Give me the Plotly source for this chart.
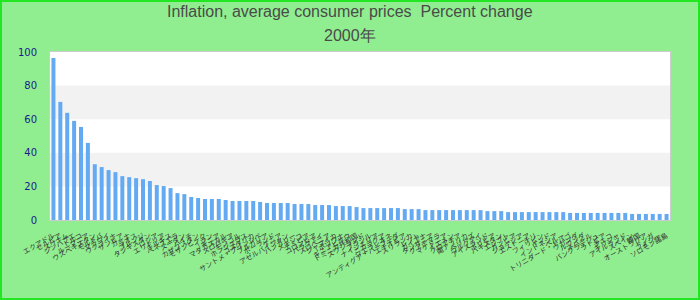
import plotly.graph_objects as go

title_line1 = "Inflation, average consumer prices  Percent change"
title_line2 = "2000年"

countries = [
    "エクアドル", "セルビア", "スリナム", "ジンバブエ", "トルコ", "ルーマニア", "ウズベキスタン", "モルドバ", "マラウイ", "ウクライナ",
    "ザンビア", "ガーナ", "ラオス", "ブルンジ", "タジキスタン", "ロシア", "エリトリア", "キルギス", "ベネズエラ", "スーダン",
    "ハイチ", "カザフスタン", "モザンビーク", "イラン", "ギニア", "マダガスカル", "スロバキア", "モンゴル", "ホンジュラス", "コスタリカ",
    "サントメ・プリンシペ", "ブルガリア", "ポーランド", "ケニア", "アゼルバイジャン", "ハンガリー", "メキシコ", "ナミビア", "コロンビア", "パラグアイ",
    "スロベニア", "ジャマイカ", "ボツワナ", "ギニアビサウ", "ドミニカ共和国", "スワジランド", "ブラジル", "ナイジェリア", "ニカラグア", "シエラレオネ",
    "アンティグア・バーブーダ", "エチオピア", "スリランカ", "レソト", "ガイアナ", "タンザニア", "グアテマラ", "マケドニア", "イエメン", "クロアチア",
    "南アフリカ", "ベリーズ", "ウルグアイ", "アイスランド", "ボリビア", "パキスタン", "エジプト", "ガンビア", "ジョージア", "エストニア",
    "チリ", "フィリピン", "インド", "インドネシア", "ペルー", "トリニダード・トバゴ", "ウガンダ", "ルワンダ", "ネパール", "バングラデシュ",
    "ラトビア", "チェコ", "ギリシャ", "アイルランド", "スペイン", "韓国", "オーストラリア", "トンガ", "フィジー", "ソロモン諸島",
]

inflation = [
    96.4, 70.3, 63.8, 59.0, 55.4, 45.9, 33.2, 31.5, 29.7, 28.5,
    26.1, 25.5, 24.9, 24.3, 23.2, 20.8, 20.2, 19.0, 16.0, 15.4,
    13.7, 13.1, 12.5, 12.5, 12.5, 11.9, 11.3, 11.3, 11.3, 11.3,
    10.7, 10.1, 10.1, 10.1, 10.1, 9.5, 9.5, 9.5, 8.9, 8.9,
    8.9, 8.3, 8.3, 8.3, 7.7, 7.1, 7.1, 7.1, 7.1, 7.1,
    7.1, 6.5, 6.5, 6.5, 5.9, 5.9, 5.9, 5.9, 5.9, 5.9,
    5.9, 5.9, 5.9, 5.3, 5.3, 5.3, 4.7, 4.7, 4.7, 4.7,
    4.7, 4.7, 4.7, 4.7, 4.7, 4.2, 4.2, 4.2, 4.2, 4.2,
    4.2, 4.2, 4.2, 4.2, 3.6, 3.6, 3.6, 3.6, 3.6, 3.6,
]

y_ticks = [0, 20, 40, 60, 80, 100]
bands = [(20, 40), (60, 80)]

W, H = 700, 300
ML, MR, MT, MB = 50, 30, 52, 80
PW, PH = W - ML - MR, H - MT - MB

fig = go.Figure()
fig.add_trace(go.Bar(
    x=countries, y=inflation,
    marker=dict(color="#64aaf2", line=dict(width=0)),
    hoverinfo="x+y",
))

shapes = []
for lo, hi in bands:
    shapes.append(dict(type="rect", xref="paper", yref="y", x0=0, x1=1, y0=lo, y1=hi,
                       fillcolor="#f2f2f2", line=dict(width=0), layer="below"))
# outer green border around the whole picture
shapes.append(dict(type="rect", xref="paper", yref="paper",
                   x0=(-ML + 1) / PW, x1=1 + (MR - 1) / PW,
                   y0=(-MB + 1) / PH, y1=1 + (MT - 1) / PH,
                   line=dict(color="#22e622", width=2), fillcolor="rgba(0,0,0,0)", layer="above"))

title_x = (W / 2 - ML) / PW
annotations = [
    dict(text=title_line1, xref="paper", yref="paper", x=title_x, y=1 + (MT - 12) / PH,
         showarrow=False, xanchor="center", yanchor="middle",
         font=dict(family="Liberation Sans, Arial", size=16, color="#4a4a4a")),
    dict(text=title_line2, xref="paper", yref="paper", x=title_x, y=1 + (MT - 36) / PH,
         showarrow=False, xanchor="center", yanchor="middle",
         font=dict(family="Liberation Sans, Arial", size=16, color="#4a4a4a")),
]

fig.update_layout(
    width=W, height=H,
    margin=dict(l=ML, r=MR, t=MT, b=MB, pad=0),
    paper_bgcolor="#90ee90",
    plot_bgcolor="#ffffff",
    bargap=0.42,
    showlegend=False,
    shapes=shapes,
    annotations=annotations,
    xaxis=dict(
        type="category",
        tickmode="array", tickvals=countries, ticktext=countries,
        tickangle=-30,
        tickfont=dict(family="Noto Sans CJK JP", size=7, color="#333333"),
        showgrid=False, zeroline=False,
        showline=True, linecolor="#cccccc", linewidth=1, mirror=True,
        ticks="", ticklabelstandoff=8,
    ),
    yaxis=dict(
        range=[0, 100],
        tickmode="array", tickvals=y_ticks,
        tickfont=dict(family="DejaVu Sans", size=10, color="#1a1a8c"),
        showgrid=False, zeroline=False,
        showline=True, linecolor="#cccccc", linewidth=1, mirror=True,
        ticks="", ticklabelstandoff=10,
    ),
)

fig.write_html("out.html")
